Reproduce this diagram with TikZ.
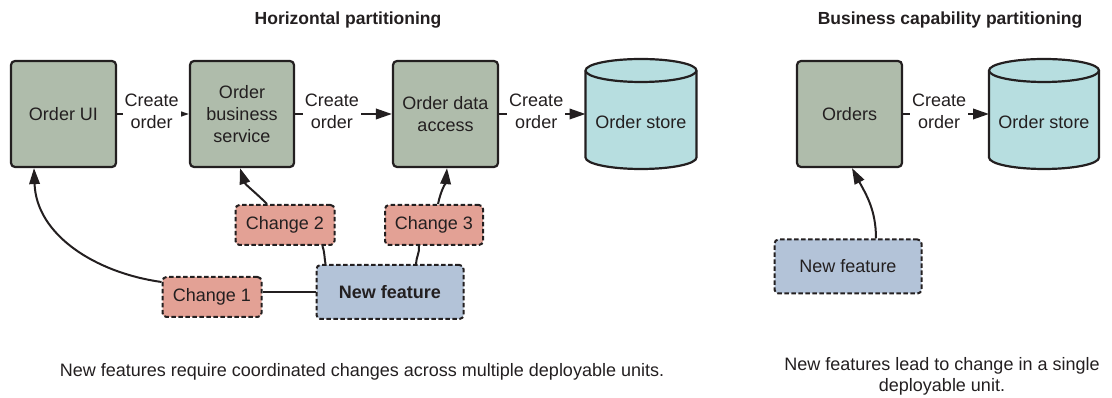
\documentclass[tikz,border=0pt]{standalone}
\usepackage{fontspec}
\setmainfont{Liberation Sans}
\usetikzlibrary{arrows.meta,calc}
\definecolor{ink}{HTML}{231F20}
\definecolor{unitfill}{HTML}{AFBCAB}
\definecolor{cylfill}{HTML}{B7DEE0}
\definecolor{chgfill}{HTML}{E3A195}
\definecolor{featfill}{HTML}{B3C3D8}
\begin{document}
\begin{tikzpicture}[x=1pt,y=1pt,
  txt/.style={font=\fontsize{18}{22}\selectfont, text=ink},
  hdr/.style={font=\bfseries\fontsize{17.5}{21}\selectfont, text=ink},
  unit/.style={txt, draw=ink, line width=2.2pt, rounded corners=4pt, fill=unitfill,
    minimum width=105pt, minimum height=106pt, align=center, inner sep=0pt},
  cylbox/.style={draw=none, minimum width=111pt, minimum height=110pt, inner sep=0pt, outer sep=0pt},
  cylpath/.style={draw=ink, line width=2.2pt, fill=cylfill},
  chg/.style={txt, draw=ink, line width=2pt, dash pattern=on 4.5pt off 2.5pt, rounded corners=4pt,
    fill=chgfill, minimum width=99pt, minimum height=40pt, inner sep=0pt},
  feat/.style={txt, draw=ink, line width=2pt, dash pattern=on 4.5pt off 2.5pt, rounded corners=4pt,
    fill=featfill, minimum width=147pt, minimum height=54pt, inner sep=0pt},
  arr/.style={line width=2pt, draw=ink, -{Triangle[length=16pt,width=10.5pt]}},
  con/.style={line width=2pt, draw=ink},
  lbl/.style={txt, fill=white, inner sep=2pt, align=center},
]
\useasboundingbox (0,0) rectangle (1112,398);

% headers
\node[hdr] (h1) at (348,378) {Horizontal partitioning};
\node[hdr] (h2) at (950,378) {Business capability partitioning};

% left units
\node[unit] (ui) at (63.5,284) {Order UI};
\node[unit, minimum width=104pt] (biz) at (242,284) {Order\\business\\service};
\node[unit] (data) at (445.5,284) {Order data\\access};
\node[cylbox] (store) at (641,284) {};
\path[cylpath] ([yshift=-11.5pt]store.north west) -- ([yshift=11.5pt]store.south west)
  arc[start angle=180, end angle=360, x radius=55.5pt, y radius=11.5pt]
  -- ([yshift=-11.5pt]store.north east)
  arc[start angle=0, end angle=180, x radius=55.5pt, y radius=11.5pt] -- cycle;
\draw[cylpath, fill=none] ([yshift=-11.5pt]store.north west)
  arc[start angle=180, end angle=360, x radius=55.5pt, y radius=11.5pt];
\node[txt] (storetxt) at ([yshift=-8pt]store.center) {Order store};

% right units
\node[unit] (orders) at (849.5,284) {Orders};
\node[cylbox, minimum width=110pt] (store2) at (1044,284) {};
\path[cylpath] ([yshift=-11.5pt]store2.north west) -- ([yshift=11.5pt]store2.south west)
  arc[start angle=180, end angle=360, x radius=55pt, y radius=11.5pt]
  -- ([yshift=-11.5pt]store2.north east)
  arc[start angle=0, end angle=180, x radius=55pt, y radius=11.5pt] -- cycle;
\draw[cylpath, fill=none] ([yshift=-11.5pt]store2.north west)
  arc[start angle=180, end angle=360, x radius=55pt, y radius=11.5pt];
\node[txt] (store2txt) at ([yshift=-8pt]store2.center) {Order store};

% change boxes
\node[chg] (ch2) at (285,173) {Change 2};
\node[chg, minimum width=98pt] (ch3) at (434,173) {Change 3};
\node[chg] (ch1) at (212,101) {Change 1};
\node[feat] (nf) at (390,106) {\textbf{New feature}};
\node[feat] (nf2) at (848,131.5) {New feature};

% create order arrows
\draw[arr] (ui) -- node[lbl, pos=0.48, yshift=3pt] {Create\\order} (biz);
\draw[arr] (biz) -- node[lbl, pos=0.38, yshift=3pt] {Create\\order} (data);
\draw[arr] (data.east) -- node[lbl, pos=0.43, yshift=3pt] {Create\\order} (data.east -| store.west);
\draw[arr] (orders.east) -- node[lbl, pos=0.42, yshift=3pt] {Create\\order} (orders.east -| store2.west);

% change connectors
\draw[arr] ([yshift=-6pt]ch1.north west) to[out=172, in=-88] ([xshift=-29.5pt]ui.south);
\draw[con] (nf.west) -- (nf.west -| ch1.east);
\draw[arr] ([xshift=-18pt]ch2.north) to[out=135, in=-72] ([xshift=-2pt]biz.south);
\draw[con] ([xshift=10pt]nf.north west) to[out=100, in=-72] ([xshift=-13pt]ch2.south east);
\draw[con] ([xshift=26pt]nf.north) to[out=88, in=-85] ([xshift=-15pt]ch3.south);
\draw[arr] ([xshift=4pt]ch3.north) to[out=78, in=-95] ([xshift=1.5pt]data.south);
\draw[arr] ([xshift=28pt]nf2.north) to[out=90, in=-62] ([xshift=2.5pt]orders.south);

% captions
\node[txt] (capl) at (362,26) {New features require coordinated changes across multiple deployable units.};
\node[txt, align=center, font=\fontsize{18}{21}\selectfont] (capr) at (942,21.5) {New features lead to change in a single\\deployable unit.};
\end{tikzpicture}
\end{document}
